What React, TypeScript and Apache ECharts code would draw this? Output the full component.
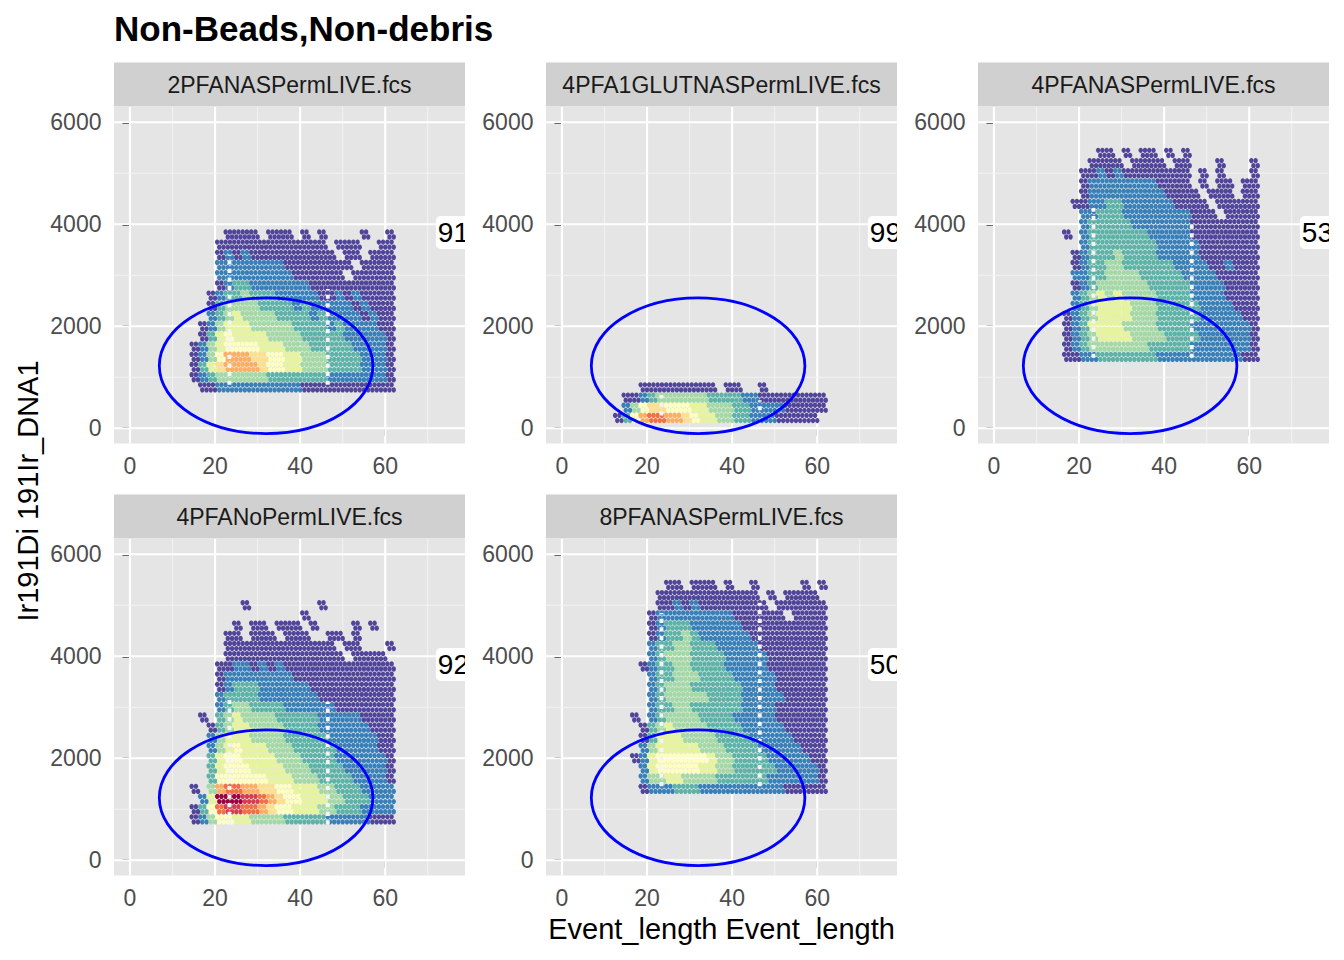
import React, { useEffect, useRef } from 'react';
import * as echarts from 'echarts';

// facet titles and gate percentages (labels are clipped by the panel edge)
const panelNames = [
  '2PFANASPermLIVE.fcs',
  '4PFA1GLUTNASPermLIVE.fcs',
  '4PFANASPermLIVE.fcs',
  '4PFANoPermLIVE.fcs',
  '8PFANASPermLIVE.fcs',
];
const gatePercent = ['91', '99', '53', '92', '50'];

const xTicks = [0, 20, 40, 60];
const xMinorTicks = [10, 30, 50, 70];
const yTicks = [0, 2000, 4000, 6000];
const yMinorTicks = [1000, 3000, 5000];

// ellipse gate: centre x, centre y, half width, half height
const gateEllipse = [32, 1225, 25.1, 1330];
const gateLabelAt = [71.9, 3838];

// hexbin counts
// one string per 200 unit row of Ir191 (from the top row down),
// one char per 2 unit column of Event_length starting at 13
// '.' = empty, 1..9,a,b = count level (low -> high)
const binX0 = 13;
const binDx = 2;
const binDy = 200;
const densityTopY = [3800, 800, 5400, 5000, 5400];

const density2PFANAS = [
  '.....1111.111.1.1....1..1.',
  '....1111111111111.111..11.',
  '....12121111111111.11.111.',
  '....2222222211111111.1111.',
  '....222222222111111.11111.',
  '....123322222221111111111.',
  '...1233433322222112121111.',
  '...1344443333232222212111.',
  '...2345444433332322221211.',
  '..12455544444333323222211.',
  '..13565555444433333222221.',
  '.124566665554443333322221.',
  '.124688877665544433332221.',
  '.135788887665544433332221.',
  '.123444444333333322222221.',
  '..11222222222211111111111.',
];

const density4PFA1GLUT = [
  '...111111111.11..1........',
  '.112344444433332211111111.',
  '.246776665544433222211111.',
  '136899887655443322211111..',
];

const density4PFANAS = [
  '......11.1.11.1.1.........',
  '.....1111.1111.11...1...1.',
  '....1121211111111.1.1...1.',
  '....1222222221111.1.11.11.',
  '....12222222221111.111.11.',
  '...1122332222221111.11111.',
  '....2233322222222111.1111.',
  '....233333222222211111111.',
  '..1.233333332222211111111.',
  '....233333333222221111111.',
  '...1233343333222221111111.',
  '...1233443333332222112111.',
  '...2233444433333222211111.',
  '...1234444443333322221111.',
  '...2345454444333322221111.',
  '...2345555444333332222111.',
  '..12345555444333332222211.',
  '..12355554444333322222221.',
  '..12345555444433332222221.',
  '..12344444443333322222221.',
  '..11223333333222222222211.',
];

const density4PFANoPerm = [
  '.......1........1.........',
  '..............1...........',
  '......1.11.111.1....1.1...',
  '.....11.111.111..11.1.....',
  '.....1111111111111.11...1.',
  '.....11111111111111.1111..',
  '....112212121111111111111.',
  '....122222222111111111111.',
  '....123332222221111111111.',
  '....233332222222111111111.',
  '....234433332222221111111.',
  '..1.345444433333222221111.',
  '...1345544443333222222111.',
  '...2455544443333322222211.',
  '...2456555444333332222211.',
  '...3566555544433332222221.',
  '...3566655554443333222221.',
  '...3666666555444333322221.',
  '.1.4899887766555443332222.',
  '..25bbbaa9876655544333222.',
  '.1369aa998766555443332222.',
  '.124665544443333322222111.',
];

const density8PFANAS = [
  '......11.111.1..1.....1.1.',
  '.....111111111111.1.1111..',
  '.....1121211111111.111111.',
  '....1222222222111111.1111.',
  '....123332222221111111111.',
  '....123343222222111111111.',
  '....233443332222211111111.',
  '....234443333222221111111.',
  '...1233443333222221111111.',
  '....233444333322222111111.',
  '....234443333332222111111.',
  '....234444433332222211111.',
  '....233443333332222111111.',
  '..1.234444333322222111111.',
  '...1345444433332222211111.',
  '...1355544443333222221111.',
  '...2455555444333322222111.',
  '..12566666654433332222211.',
  '...2566666554433333222221.',
  '...2445544443333332222221.',
  '...1222333222222222211111.',
];

const densities = [density2PFANAS, density4PFA1GLUT, density4PFANAS, density4PFANoPerm, density8PFANAS];

// empty (white) bin columns: x, y from, y to
const gapColumns = [
  [[23.4, 850, 3400], [46.5, 850, 2730]],
  [[23.4, 250, 650], [46.5, 350, 550]],
  [[23.4, 1380, 4320], [46.5, 1380, 3990]],
  [[23.4, 700, 3190], [46.5, 700, 3110]],
  [[23.4, 1450, 4850], [46.5, 1450, 5050]],
];

const levelKeys = '123456789ab';
const levelColors = [
  '#51459B', '#3980B9', '#5DB3A7', '#A3D9A4', '#E6F598', '#FFFFBF',
  '#FEE08B', '#FDAE61', '#F46D43', '#D53E4F', '#9E0142',
];

const FONT = '"Liberation Sans", Arial, Helvetica, sans-serif';
const X_MIN = -3.75;
const X_MAX = 78.75;
const Y_MIN = -300;
const Y_MAX = 6300;
const colLeft = [114, 546, 978];
const rowTop = [107, 539];
const PW = 351;
const PH = 336.5;

const cellsOf = (p: number) => {
  const out: number[][] = [];
  densities[p].forEach((row, r) => {
    const y = densityTopY[p] - r * binDy;
    for (let i = 0; i < row.length; i++) {
      const lv = levelKeys.indexOf(row[i]);
      if (lv >= 0) out.push([binX0 + i * binDx, y, lv]);
    }
  });
  return out;
};

const buildOption = () => {
  const grid: any[] = [];
  const xAxis: any[] = [];
  const yAxis: any[] = [];
  const series: any[] = [];
  const graphic: any[] = [];

  panelNames.forEach((name, p) => {
    const left = colLeft[p % 3];
    const top = rowTop[Math.floor(p / 3)];

    grid.push({
      left, top, width: PW, height: PH,
      show: true, backgroundColor: '#E5E5E5', borderWidth: 0,
      containLabel: false, outerBoundsMode: 'none',
    });

    xAxis.push({
      gridIndex: p, type: 'value', min: X_MIN, max: X_MAX,
      axisLine: { show: false },
      splitLine: { show: false },
      axisTick: { show: true, length: 7.5, lineStyle: { color: '#333333', width: 2 }, customValues: xTicks },
      axisLabel: {
        show: true, customValues: xTicks, color: '#4D4D4D', fontSize: 23, fontFamily: FONT, margin: 11,
        formatter: (v: number) => String(v),
      },
    });
    yAxis.push({
      gridIndex: p, type: 'value', min: Y_MIN, max: Y_MAX,
      axisLine: { show: false },
      splitLine: { show: false },
      axisTick: { show: true, length: 7.5, lineStyle: { color: '#333333', width: 2 }, customValues: yTicks },
      axisLabel: {
        show: true, customValues: yTicks, color: '#4D4D4D', fontSize: 23, fontFamily: FONT, margin: 12.5,
        formatter: (v: number) => String(v),
      },
    });

    // panel grid lines
    const lines = [
      ...xTicks.map((v) => [0, v, 1]),
      ...xMinorTicks.map((v) => [0, v, 0]),
      ...yTicks.map((v) => [1, v, 1]),
      ...yMinorTicks.map((v) => [1, v, 0]),
    ];
    series.push({
      type: 'custom', xAxisIndex: p, yAxisIndex: p, silent: true, z: 1,
      data: lines,
      renderItem: (_params: any, api: any) => {
        const kind = api.value(0);
        const v = api.value(1);
        const major = api.value(2) === 1;
        const a = kind === 0 ? api.coord([v, Y_MIN]) : api.coord([X_MIN, v]);
        const b = kind === 0 ? api.coord([v, Y_MAX]) : api.coord([X_MAX, v]);
        return {
          type: 'line',
          shape: { x1: a[0], y1: a[1], x2: b[0], y2: b[1] },
          style: { stroke: major ? '#FFFFFF' : '#F2F2F2', lineWidth: major ? 2.1 : 1.1 },
        };
      },
    });

    // hexbin cells, each drawn as a small patch of hex-packed dots
    series.push({
      type: 'custom', xAxisIndex: p, yAxisIndex: p, silent: true, z: 2,
      progressive: 0,
      data: cellsOf(p),
      renderItem: (_params: any, api: any) => {
        const c = api.coord([api.value(0), api.value(1)]);
        const u = api.size([1, 100]);
        const fill = levelColors[api.value(2)];
        const offs = [[-0.5, 0.5], [0.5, 0.5], [0, -0.5], [1, -0.5]];
        return {
          type: 'group',
          children: offs.map(([dx, dy]) => ({
            type: 'ellipse',
            shape: { cx: c[0] + dx * u[0], cy: c[1] - dy * u[1], rx: 2.2, ry: 2.65 },
            style: { fill },
          })),
        };
      },
    });

    // empty bin columns
    series.push({
      type: 'custom', xAxisIndex: p, yAxisIndex: p, silent: true, z: 3,
      data: gapColumns[p],
      renderItem: (_params: any, api: any) => {
        const a = api.coord([api.value(0), api.value(1)]);
        const b = api.coord([api.value(0), api.value(2)]);
        return {
          type: 'line',
          shape: { x1: a[0], y1: a[1], x2: b[0], y2: b[1] },
          style: { stroke: '#F4F4F4', lineWidth: 3.8, lineDash: [4.2, 4.4] },
        };
      },
    });

    // ellipse gate
    series.push({
      type: 'custom', xAxisIndex: p, yAxisIndex: p, silent: true, z: 4, clip: true,
      data: [gateEllipse],
      renderItem: (_params: any, api: any) => {
        const c = api.coord([api.value(0), api.value(1)]);
        const s = api.size([api.value(2), api.value(3)]);
        return {
          type: 'ellipse',
          shape: { cx: c[0], cy: c[1], rx: s[0], ry: s[1] },
          style: { fill: 'none', stroke: '#0000FF', lineWidth: 2.8 },
        };
      },
    });

    // gate percentage label
    series.push({
      type: 'custom', xAxisIndex: p, yAxisIndex: p, silent: true, z: 5, clip: true,
      data: [gateLabelAt],
      renderItem: (_params: any, api: any) => {
        const c = api.coord([api.value(0), api.value(1)]);
        return {
          type: 'text',
          x: c[0], y: c[1],
          style: {
            text: gatePercent[p], fill: '#000000', fontSize: 28, fontFamily: FONT,
            align: 'left', verticalAlign: 'middle',
            backgroundColor: '#FFFFFF', padding: [3, 6, 2, 2], borderRadius: 5,
          },
        };
      },
    });

    // facet strip
    graphic.push({
      type: 'rect', silent: true,
      shape: { x: left, y: top - 44.5, width: PW, height: 44 },
      style: { fill: '#D0D0D0' },
    });
    graphic.push({
      type: 'text', silent: true, x: left + PW / 2, y: top - 22.5,
      style: { text: name, fontSize: 23, fontFamily: FONT, fill: '#1A1A1A', align: 'center', verticalAlign: 'middle' },
    });
  });

  graphic.push({
    type: 'text', silent: true, x: 114, y: 28,
    style: { text: 'Non-Beads,Non-debris', fontSize: 35, fontWeight: 'bold', fontFamily: FONT, fill: '#000000', align: 'left', verticalAlign: 'middle' },
  });
  graphic.push({
    type: 'text', silent: true, x: 28, y: 491, rotation: Math.PI / 2,
    style: { text: 'Ir191Di 191Ir_DNA1', fontSize: 29, fontFamily: FONT, fill: '#000000', align: 'center', verticalAlign: 'middle' },
  });
  graphic.push({
    type: 'text', silent: true, x: 721.5, y: 929,
    style: { text: 'Event_length Event_length', fontSize: 29, fontFamily: FONT, fill: '#000000', align: 'center', verticalAlign: 'middle' },
  });

  return {
    animation: false,
    backgroundColor: '#FFFFFF',
    grid,
    xAxis,
    yAxis,
    series,
    graphic,
  };
};

const App = () => {
  const chartRef = useRef<HTMLDivElement>(null);

  useEffect(() => {
    document.body.style.margin = '0';
    if (!chartRef.current) return;
    const chart = echarts.init(chartRef.current, null, { renderer: 'svg' });
    chart.setOption(buildOption() as any);
    return () => {
      chart.dispose();
    };
  }, []);

  return <div ref={chartRef} style={{ width: '1344px', height: '960px' }} />;
};

export default App;
